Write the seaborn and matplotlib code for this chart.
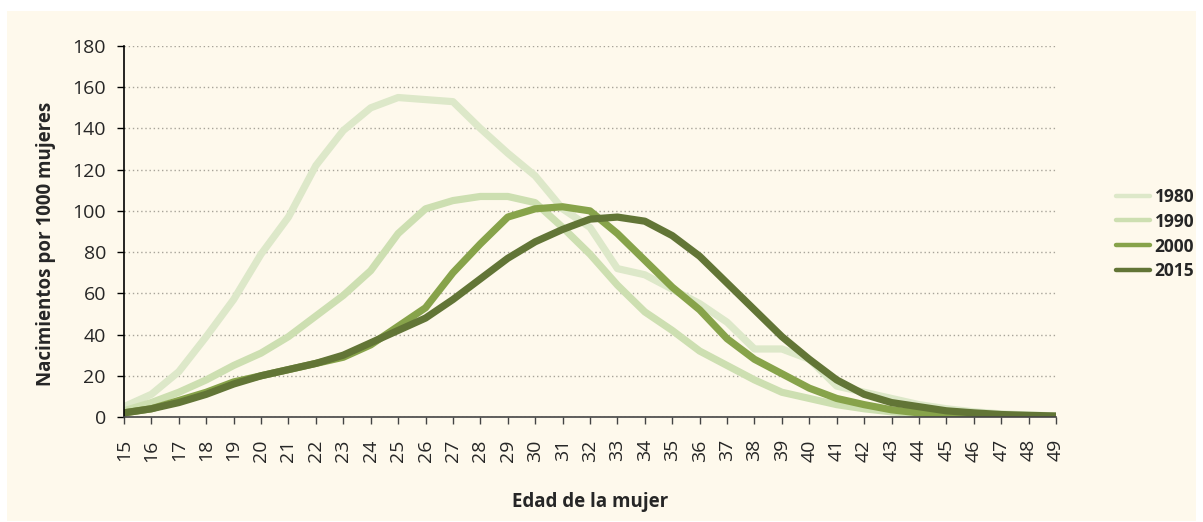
import pandas as pd
import matplotlib.pyplot as plt
import seaborn as sns
from matplotlib.patches import Rectangle

ages = list(range(15, 50))

y1980 = [5, 11, 22, 39, 57, 79, 97, 122, 139, 150, 155, 154, 153, 140, 128, 117, 101, 92, 72, 69,
         62, 55, 46, 33, 33, 28, 15, 12, 9, 6, 4, 2.5, 1.5, 1, 0.5]
y1990 = [3, 7, 12, 18, 25, 31, 39, 49, 59, 71, 89, 101, 105, 107, 107, 104, 92, 79, 64, 51,
         42, 32, 25, 18, 12, 9, 6, 4, 2.5, 1.5, 0.8, 0.4, 0.2, 0.1, 0.1]
y2000 = [2, 4, 8, 12, 17, 20, 23, 26, 29, 35, 44, 53, 70, 84, 97, 101, 102, 100, 89, 76,
         63, 52, 38, 28, 21, 14, 9, 6, 3.5, 2, 1, 0.5, 0.3, 0.2, 0.1]
y2015 = [2, 4, 7, 11, 16, 20, 23, 26, 30, 36, 42, 48, 57, 67, 77, 85, 91, 96, 97, 95,
         88, 78, 65, 52, 39, 28, 18, 11, 7, 5, 3, 2, 1.2, 0.8, 0.5]

years = ["1980", "1990", "2000", "2015"]
colors = ["#dde8c9", "#cddfb1", "#87a34a", "#627536"]

df = pd.DataFrame({"Edad": ages, "1980": y1980, "1990": y1990, "2000": y2000, "2015": y2015})
long = df.melt(id_vars="Edad", var_name="Año", value_name="Tasa")

sns.set_theme(style="white")
plt.rcParams["font.family"] = ["Open Sans", "DejaVu Sans"]

fig = plt.figure(figsize=(12.03, 5.22), dpi=100)
fig.patch.set_facecolor("white")
fig.patches.append(Rectangle((7 / 1203, 1 / 522), 1189 / 1203, 510 / 522,
                             transform=fig.transFigure, facecolor="#fef9ec",
                             edgecolor="none", zorder=-10))

ax = fig.add_axes([124 / 1203, 1 - 417 / 522, 932 / 1203, 371 / 522])
ax.set_facecolor("none")

sns.lineplot(data=long, x="Edad", y="Tasa", hue="Año", hue_order=years,
             palette=colors, linewidth=5.2, ax=ax, legend=False,
             solid_capstyle="round", solid_joinstyle="round")

ax.set_xlim(15, 49)
ax.set_ylim(0, 180)
ax.set_xticks(ages)
ax.set_xticklabels([str(a) for a in ages], rotation=90, fontsize=14)
ax.set_yticks(range(0, 181, 20))
ax.tick_params(axis="y", labelsize=14, length=5, width=1, color="black", direction="out", pad=8, left=True)
ax.tick_params(axis="x", length=5, width=1, color="#444444", direction="out", pad=11, bottom=True)
ax.yaxis.grid(True, linestyle=(0, (1, 2)), color="#a8a49a", linewidth=1)
ax.set_axisbelow(True)

for s in ["top", "right"]:
    ax.spines[s].set_visible(False)
ax.spines["left"].set_color("black")
ax.spines["left"].set_linewidth(1.2)
ax.spines["bottom"].set_color("#444444")
ax.spines["bottom"].set_linewidth(1.2)

ax.set_xlabel("Edad de la mujer", fontsize=13.5, fontweight="bold")
ax.xaxis.set_label_coords(0.5, -(492 - 417) / 371, transform=ax.transAxes)
ax.set_ylabel("Nacimientos por 1000 mujeres", fontsize=13.5, fontweight="bold", va="center")
ax.yaxis.set_label_coords(-(124 - 46) / 932, (417 - 244) / 371)

handles = [plt.Line2D([0], [0], color=c, linewidth=3.2) for c in colors]
leg = fig.legend(handles, years, loc="upper left", bbox_to_anchor=(1100 / 1203, 1 - 172 / 522),
                 frameon=False, handlelength=2.0, handletextpad=0.25, labelspacing=0.4,
                 prop={"weight": "bold", "size": 12.5})

fig.savefig("out.png", dpi=100)
